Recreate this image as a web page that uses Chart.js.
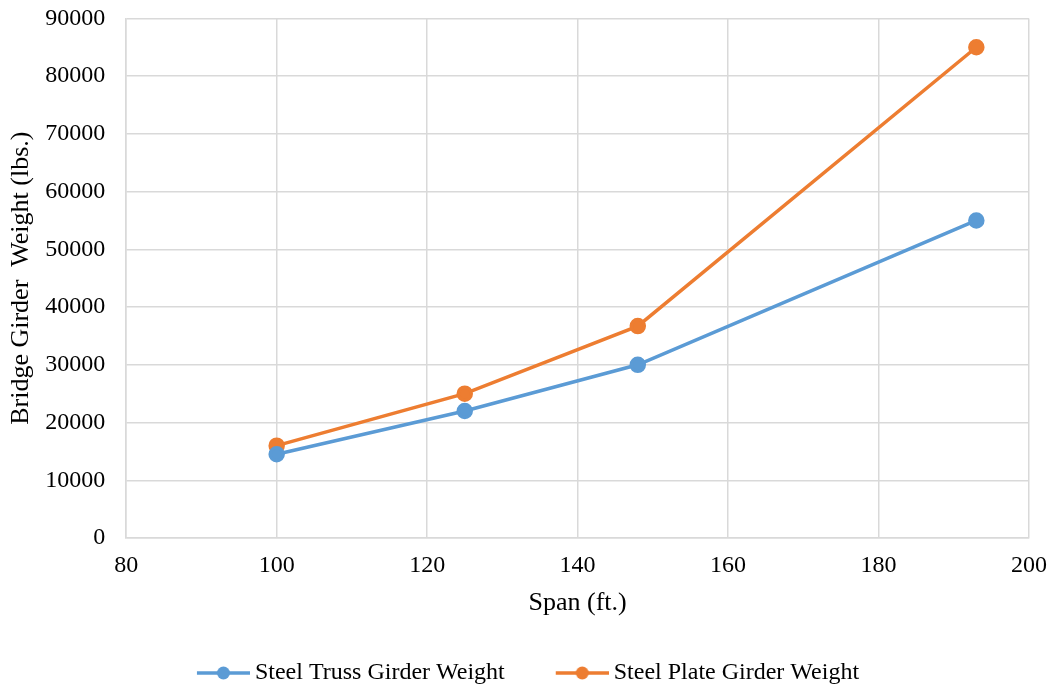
<!DOCTYPE html>
<html>
<head>
<meta charset="utf-8">
<script src="https://cdn.jsdelivr.net/npm/chart.js@4.4.0/dist/chart.umd.min.js"></script>
<style>
  html, body { margin:0; padding:0; background:#fff; }
  #wrap { width:1054px; height:685px; position:relative; }
</style>
</head>
<body>
<div id="wrap"><canvas id="chart"></canvas></div>
<script>
// Chart data
const spans = [100, 125, 148, 193];
const trussWeight = [14500, 22000, 30000, 55000];
const plateWeight = [16000, 25000, 36700, 85000];
const seriesNames = ['Steel Truss Girder Weight', 'Steel Plate Girder Weight'];
const xTicks = [80, 100, 120, 140, 160, 180, 200];
const yTicks = [0, 10000, 20000, 30000, 40000, 50000, 60000, 70000, 80000, 90000];

const blue = '#5B9BD5';
const orange = '#ED7D31';
const font = 'Liberation Serif, "Times New Roman", serif';

// line + dot icon for the legend (line sits on the right side of the image)
function legendIcon(color){
  const c = document.createElement('canvas');
  c.width = 81; c.height = 16;
  const g = c.getContext('2d');
  g.strokeStyle = color; g.lineWidth = 3.5;
  g.beginPath(); g.moveTo(28, 8); g.lineTo(81, 8); g.stroke();
  g.fillStyle = color;
  g.beginPath(); g.arc(54.5, 8, 6.5, 0, Math.PI*2); g.fill();
  return c;
}

const toPoints = ys => spans.map((x, i) => ({x, y: ys[i]}));

new Chart(document.getElementById('chart'), {
  type: 'line',
  data: {
    datasets: [
      { label: seriesNames[0], data: toPoints(trussWeight), borderColor: blue, backgroundColor: blue,
        borderWidth: 3.5, pointRadius: 6.5, pointHoverRadius: 6.5, tension: 0 },
      { label: seriesNames[1], data: toPoints(plateWeight), borderColor: orange, backgroundColor: orange,
        borderWidth: 3.5, pointRadius: 6.5, pointHoverRadius: 6.5, tension: 0 }
    ]
  },
  options: {
    responsive: true,
    maintainAspectRatio: false,
    animation: false,
    layout: { padding: { left: 6, right: 25, top: 8, bottom: -10 } },
    plugins: {
      tooltip: { enabled: false },
      legend: {
        position: 'bottom',
        labels: {
          color: '#000',
          font: { family: font, size: 24 },
          usePointStyle: true,
          pointStyleWidth: 67,
          padding: 30,
          generateLabels: chart => chart.data.datasets.map((ds, i) => ({
            text: ds.label, pointStyle: legendIcon(ds.borderColor), fillStyle: ds.borderColor,
            strokeStyle: ds.borderColor, lineWidth: 0, datasetIndex: i, hidden: false, fontColor: '#000'
          }))
        }
      }
    },
    scales: {
      x: {
        type: 'linear', min: 80, max: 200,
        afterBuildTicks: axis => { axis.ticks = xTicks.map(v => ({value: v})); },
        grid: { color: '#d9d9d9', lineWidth: 1.5, drawTicks: true, tickLength: 10, tickColor: 'rgba(0,0,0,0)' },
        border: { color: '#d9d9d9', width: 1.5 },
        ticks: { color: '#000', font: { family: font, size: 24 }, padding: 3, maxRotation: 0 },
        title: { display: true, text: 'Span (ft.)', color: '#000', font: { family: font, size: 26 }, padding: { top: 5, bottom: 12 } }
      },
      y: {
        min: 0, max: 90000,
        afterBuildTicks: axis => { axis.ticks = yTicks.map(v => ({value: v})); },
        grid: { color: '#d9d9d9', lineWidth: 1.5, drawTicks: true, tickLength: 17, tickColor: 'rgba(0,0,0,0)' },
        border: { color: '#d9d9d9', width: 1.5 },
        ticks: { color: '#000', font: { family: font, size: 24 }, padding: 4, callback: v => String(v) },
        title: { display: true, text: 'Bridge Girder  Weight (lbs.)', color: '#000', font: { family: font, size: 26 }, padding: { top: 0, bottom: 4 } }
      }
    }
  }
});
</script>
</body>
</html>
